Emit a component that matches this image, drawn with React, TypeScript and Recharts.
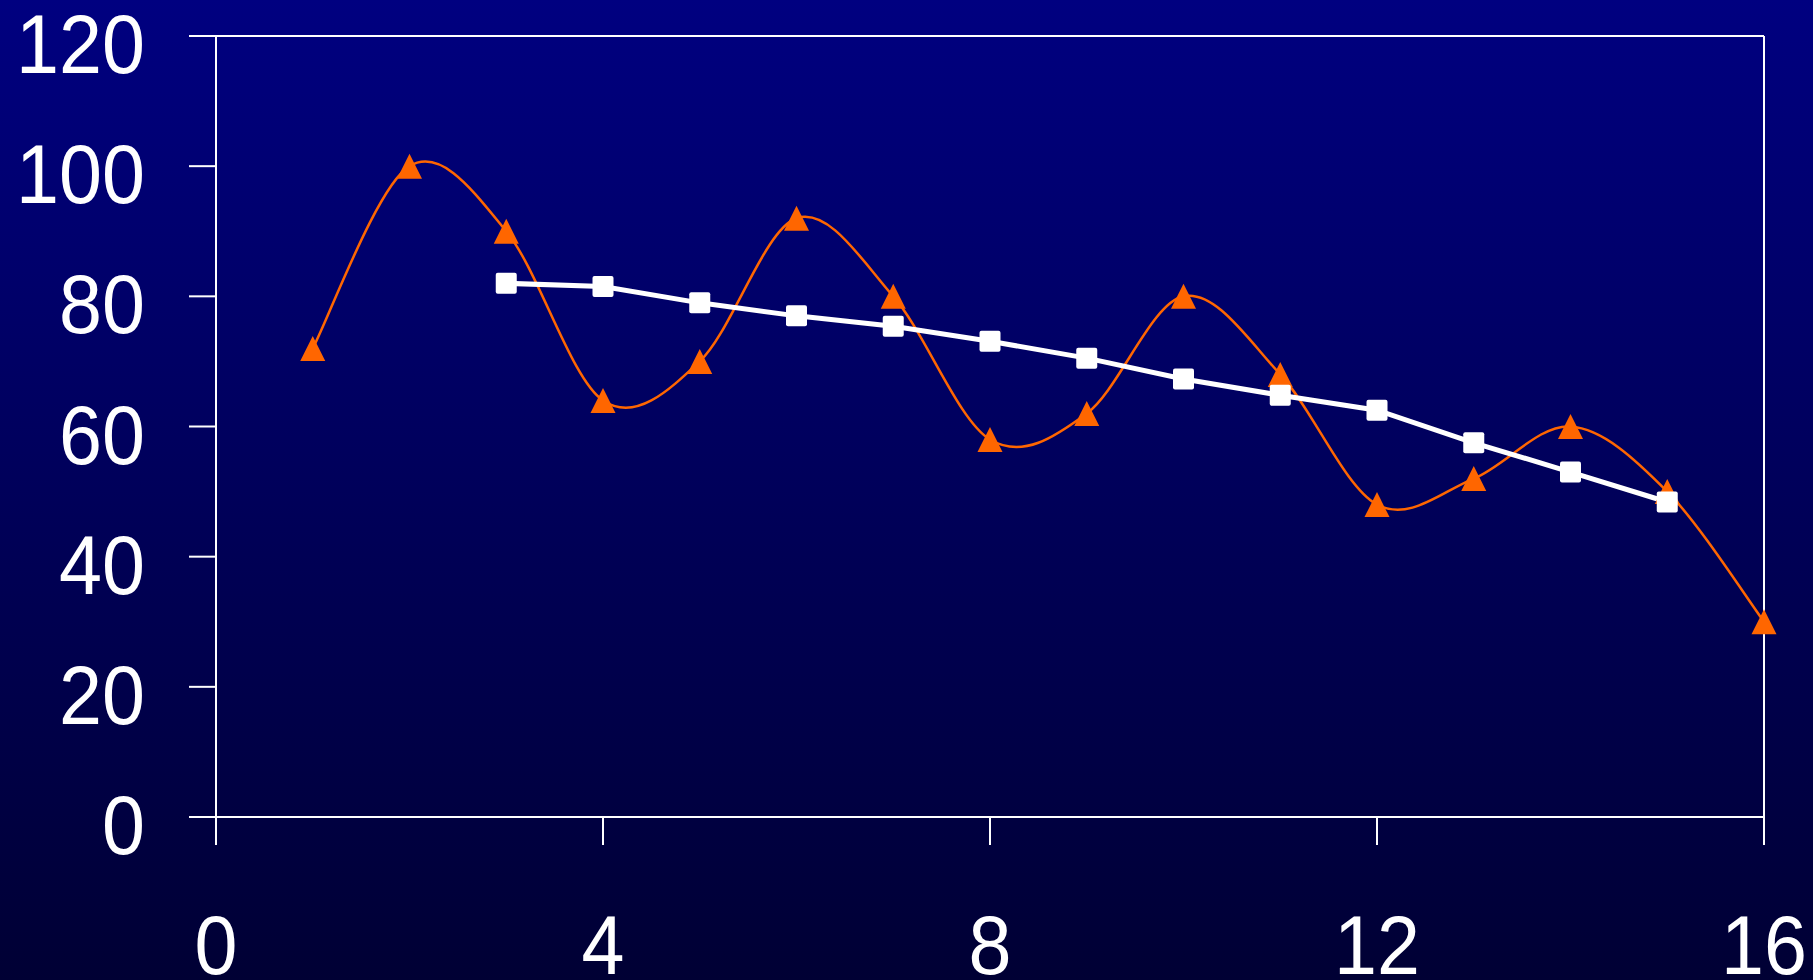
import { LineChart, Line, XAxis, YAxis, ReferenceLine } from 'recharts';

const xValues = [1, 2, 3, 4, 5, 6, 7, 8, 9, 10, 11, 12, 13, 14, 15, 16];
const orangeValues = [72, 100, 90, 64, 70, 92, 80, 58, 62, 80, 68, 48, 52, 60, 50, 30];
const whiteValues = [null, null, 82, 81.5, 79, 77, 75.4, 73.1, 70.5, 67.3, 64.8, 62.5, 57.5, 53, 48.4, null];
const xTicks = [0, 4, 8, 12, 16];
const yTicks = [0, 20, 40, 60, 80, 100, 120];

const data = xValues.map((x, i) => ({ x, orange: orangeValues[i], white: whiteValues[i] }));

const FONT = '"Liberation Sans", Arial, sans-serif';
const ORANGE = '#ff6600';

// excel-like smoothing (catmull-rom through the points)
function smoothCurve(context: any) {
  let pts: [number, number][] = [];
  return {
    areaStart() {},
    areaEnd() {},
    lineStart() {
      pts = [];
    },
    lineEnd() {
      if (!pts.length) return;
      context.moveTo(pts[0][0], pts[0][1]);
      for (let i = 0; i < pts.length - 1; i++) {
        const p0 = pts[i - 1] || pts[i];
        const p1 = pts[i];
        const p2 = pts[i + 1];
        const p3 = pts[i + 2] || p2;
        context.bezierCurveTo(
          p1[0] + (p2[0] - p0[0]) / 6,
          p1[1] + (p2[1] - p0[1]) / 6,
          p2[0] - (p3[0] - p1[0]) / 6,
          p2[1] - (p3[1] - p1[1]) / 6,
          p2[0],
          p2[1]
        );
      }
    },
    point(x: number, y: number) {
      pts.push([x, y]);
    },
  };
}

const Triangle = (props: any) => {
  const { cx, cy, value } = props;
  if (value == null || cx == null || cy == null) return <g key={props.key} />;
  const s = 12.5;
  return (
    <polygon
      key={props.key}
      points={`${cx},${cy - s} ${cx + s},${cy + s} ${cx - s},${cy + s}`}
      fill={ORANGE}
    />
  );
};

const Square = (props: any) => {
  const { cx, cy, value } = props;
  if (value == null || cx == null || cy == null) return <g key={props.key} />;
  return <rect key={props.key} x={cx - 10.5} y={cy - 10.5} width={21} height={21} rx={2} fill="#ffffff" />;
};

const YTick = (props: any) => {
  const { x, y, payload } = props;
  return (
    <g transform={`translate(${x},${y + 37}) scale(0.92,1)`}>
      <text x={0} y={0} textAnchor="end" fill="#ffffff" fontSize={84} fontFamily={FONT}>
        {payload.value}
      </text>
    </g>
  );
};

const XTick = (props: any) => {
  const { x, payload } = props;
  return (
    <g transform={`translate(${x},974) scale(0.92,1)`}>
      <text x={0} y={0} textAnchor="middle" fill="#ffffff" fontSize={84} fontFamily={FONT}>
        {payload.value}
      </text>
    </g>
  );
};

export default function App() {
  return (
    <div
      style={{
        position: 'absolute',
        left: 0,
        top: 0,
        width: 1813,
        height: 980,
        background: 'linear-gradient(to bottom, #000080 0%, #00005a 50%, #000034 100%)',
      }}
    >
      <LineChart width={1813} height={980} data={data} margin={{ top: 36, right: 49, left: 0, bottom: 0 }}>
        <XAxis
          dataKey="x"
          type="number"
          domain={[0, 16]}
          ticks={xTicks}
          height={163}
          tickSize={28}
          axisLine={{ stroke: '#ffffff', strokeWidth: 2 }}
          tickLine={{ stroke: '#ffffff', strokeWidth: 2 }}
          tick={<XTick />}
        />
        <YAxis
          type="number"
          domain={[0, 120]}
          ticks={yTicks}
          width={216}
          tickSize={27}
          tickMargin={44}
          axisLine={{ stroke: '#ffffff', strokeWidth: 2 }}
          tickLine={{ stroke: '#ffffff', strokeWidth: 2 }}
          tick={<YTick />}
        />
        <ReferenceLine y={120} stroke="#ffffff" strokeWidth={2} />
        <ReferenceLine x={16} stroke="#ffffff" strokeWidth={2} />
        <Line
          dataKey="orange"
          type={smoothCurve as any}
          stroke={ORANGE}
          strokeWidth={2.5}
          dot={<Triangle />}
          activeDot={false}
          isAnimationActive={false}
        />
        <Line
          dataKey="white"
          type="linear"
          stroke="#ffffff"
          strokeWidth={5}
          dot={<Square />}
          activeDot={false}
          isAnimationActive={false}
        />
      </LineChart>
    </div>
  );
}
